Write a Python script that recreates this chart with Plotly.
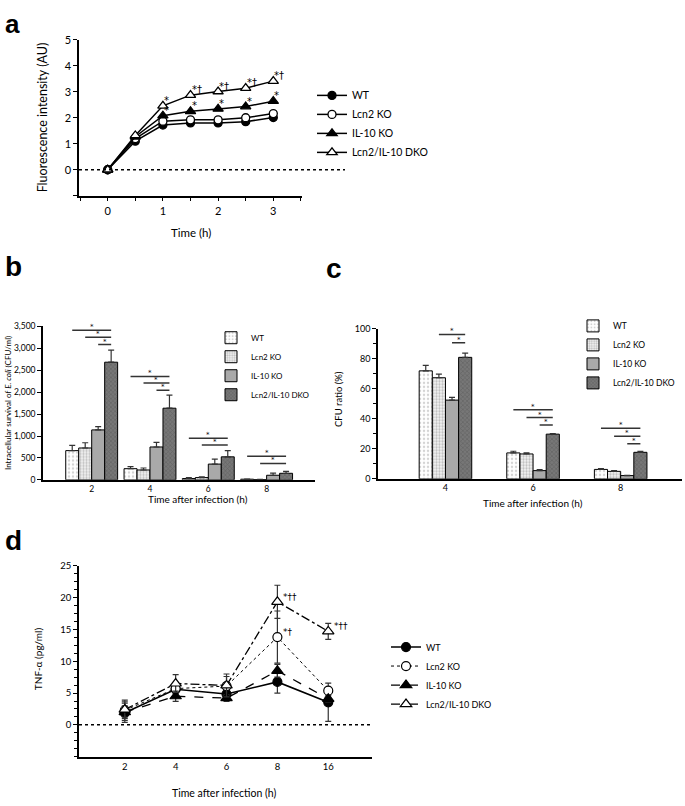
import plotly.graph_objects as go

W, H = 685, 806
FONT = "Lato"
SYMFONT = "DejaVu Sans"

groups = ["WT", "Lcn2 KO", "IL-10 KO", "Lcn2/IL-10 DKO"]

# ---------------- panel a ----------------
time_a = [0, 0.5, 1, 1.5, 2, 2.5, 3]
a_wt = [0, 1.10, 1.72, 1.80, 1.80, 1.85, 2.01]
a_lcn2 = [0, 1.20, 1.87, 1.92, 1.92, 2.00, 2.16]
a_il10 = [0, 1.27, 2.08, 2.25, 2.34, 2.43, 2.64]
a_dko = [0, 1.32, 2.46, 2.87, 3.01, 3.14, 3.41]
a_sig_il10 = ["", "", "*", "*", "*", "*", "*"]
a_sig_dko = ["", "", "*", "*†", "*†", "*†", "*†"]
a_ticks = [0, 1, 2, 3]

# ---------------- panel b ----------------
time_b = ["2", "4", "6", "8"]
b_wt = [667, 255, 30, 15]
b_wt_err = [120, 45, 20, 5]
b_lcn2 = [727, 225, 52, 8]
b_lcn2_err = [120, 45, 15, 5]
b_il10 = [1140, 750, 360, 105]
b_il10_err = [75, 105, 113, 50]
b_dko = [2685, 1635, 525, 150]
b_dko_err = [277, 300, 140, 45]
# significance brackets: (group index, from bar index, to bar index, level)
b_sig = [(0, 0, 3, 3411), (0, 1, 3, 3253), (0, 2, 3, 3088),
         (1, 0, 3, 2361), (1, 1, 3, 2211), (1, 2, 3, 2047),
         (2, 0, 3, 952), (2, 1, 3, 795),
         (3, 0, 3, 540), (3, 1, 3, 375)]

# ---------------- panel c ----------------
time_c = ["4", "6", "8"]
c_wt = [72.0, 17.3, 6.3]
c_wt_err = [3.6, 1.1, 0.5]
c_lcn2 = [67.4, 16.6, 5.0]
c_lcn2_err = [2.4, 0.7, 0.5]
c_il10 = [52.5, 5.5, 2.2]
c_il10_err = [1.8, 0.6, 0.2]
c_dko = [81.0, 29.8, 17.7]
c_dko_err = [2.8, 0.4, 0.6]
c_sig = [(0, 1, 3, 96.3), (0, 2, 3, 90.8),
         (1, 0, 3, 46.0), (1, 1, 3, 40.9), (1, 2, 3, 35.9),
         (2, 0, 3, 33.7), (2, 1, 3, 28.4), (2, 2, 3, 23.4)]

# ---------------- panel d ----------------
time_d = ["2", "4", "6", "8", "16"]
d_wt = [1.9, 5.6, 4.85, 6.75, 3.55]
d_wt_err = [1.5, 0.6, 0.5, 1.75, 3.0]
d_lcn2 = [2.3, 5.7, 6.1, 13.8, 5.37]
d_lcn2_err = [1.6, 0.8, 1.5, 4.1, 0.5]
d_il10 = [2.0, 4.5, 4.2, 8.5, 4.1]
d_il10_err = [1.0, 0.8, 0.5, 1.0, 0.5]
d_dko = [2.4, 6.5, 6.2, 19.35, 14.7]
d_dko_err = [1.2, 1.4, 1.8, 2.6, 1.25]
d_sig_lcn2 = ["", "", "", "*†", ""]
d_sig_dko = ["", "", "", "*††", "*††"]


def xd(p0, p1):
    return [p0 / W, p1 / W]


def yd(top, bottom):
    return [1 - bottom / H, 1 - top / H]


def px(p):
    return p / W


def py(p):
    return 1 - p / H


fig = go.Figure()

# ---- panel a traces ----
a_series = [a_wt, a_lcn2, a_il10, a_dko]
a_sym = ["circle", "circle-open", "triangle-up", "triangle-up-open"]
for name, ys, sym in zip(groups, a_series, a_sym):
    filled = "open" not in sym
    fig.add_trace(go.Scatter(
        x=time_a, y=ys, mode="lines+markers", name=name,
        xaxis="x", yaxis="y", legend="legend",
        line=dict(color="black", width=1.5),
        marker=dict(symbol=sym.replace("-open", ""), size=9 if "triangle" in sym else 8,
                    color="black" if filled else "white",
                    line=dict(color="black", width=1.3)),
    ))

# ---- panel b / c bars ----
bar_styles = [
    dict(color="white", pattern=dict(shape=".", fgcolor="#a8a8a8", bgcolor="white", size=4, solidity=0.3)),
    dict(color="#eeeeee", pattern=dict(shape=".", fgcolor="#8a8a8a", bgcolor="#f4f4f4", size=3, solidity=0.45)),
    dict(color="#a9a9a9"),
    dict(color="#6a6a6a", pattern=dict(shape="x", fgcolor="#4c4c4c", bgcolor="#777777", size=3, solidity=0.35)),
]

B_GAP, C_GAP = 0.11, 0.40

b_vals = [b_wt, b_lcn2, b_il10, b_dko]
b_errs = [b_wt_err, b_lcn2_err, b_il10_err, b_dko_err]
for k, (name, v, e, st) in enumerate(zip(groups, b_vals, b_errs, bar_styles)):
    w = (1 - B_GAP) / 4
    fig.add_trace(go.Bar(
        x=list(range(len(time_b))), y=v, name=name, xaxis="x2", yaxis="y2", legend="legend2",
        width=w, offset=-(1 - B_GAP) / 2 + k * w,
        marker=dict(line=dict(color="black", width=1), **st),
        error_y=dict(type="data", array=e, arrayminus=[0] * len(e), symmetric=False,
                     color="#333333", thickness=1.2, width=3),
    ))

c_vals = [c_wt, c_lcn2, c_il10, c_dko]
c_errs = [c_wt_err, c_lcn2_err, c_il10_err, c_dko_err]
for k, (name, v, e, st) in enumerate(zip(groups, c_vals, c_errs, bar_styles)):
    w = (1 - C_GAP) / 4
    fig.add_trace(go.Bar(
        x=list(range(len(time_c))), y=v, name=name, xaxis="x3", yaxis="y3", legend="legend3",
        width=w, offset=-(1 - C_GAP) / 2 + k * w,
        marker=dict(line=dict(color="black", width=1), **st),
        error_y=dict(type="data", array=e, arrayminus=[0] * len(e), symmetric=False,
                     color="#333333", thickness=1.2, width=3),
    ))

# ---- panel d ----
d_series = [d_wt, d_lcn2, d_il10, d_dko]
d_errs = [d_wt_err, d_lcn2_err, d_il10_err, d_dko_err]
d_dash = ["solid", "dot", "dash", "dashdot"]
d_width = [1.6, 1.0, 1.3, 1.3]
for name, ys, e, sym, dash, lw in zip(groups, d_series, d_errs, a_sym, d_dash, d_width):
    filled = "open" not in sym
    fig.add_trace(go.Scatter(
        x=list(range(len(time_d))), y=ys, mode="lines+markers", name=name,
        xaxis="x4", yaxis="y4", legend="legend4",
        line=dict(color="black", width=lw, dash=dash),
        marker=dict(symbol=sym.replace("-open", ""), size=10 if "triangle" in sym else 9,
                    color="black" if filled else "white",
                    line=dict(color="black", width=1.2)),
        error_y=dict(type="data", array=e, color="#333333", thickness=1.2, width=3),
    ))

annotations = []
shapes = []

# panel a significance marks
for xs, ys, marks in [(time_a, a_il10, a_sig_il10), (time_a, a_dko, a_sig_dko)]:
    for x, y, m in zip(xs, ys, marks):
        if m:
            annotations.append(dict(x=x, y=y, xref="x", yref="y", text=m, showarrow=False,
                                    xanchor="left", yanchor="bottom", xshift=-1, yshift=-2,
                                    font=dict(family=SYMFONT, size=10, color="black")))

# panel d significance marks
for ys, marks in [(d_lcn2, d_sig_lcn2), (d_dko, d_sig_dko)]:
    for i, (y, m) in enumerate(zip(ys, marks)):
        if m:
            annotations.append(dict(x=i, y=y, xref="x4", yref="y4", text=m, showarrow=False,
                                    xanchor="left", yanchor="bottom", xshift=4, yshift=-2,
                                    font=dict(family=SYMFONT, size=9, color="black")))


def bar_center(g, i, gap, n=4):
    w = (1 - gap) / n
    return g - (1 - gap) / 2 + (i + 0.5) * w


for (g, i0, i1, lev) in b_sig:
    x0, x1 = bar_center(g, i0, B_GAP), bar_center(g, i1, B_GAP)
    shapes.append(dict(type="line", xref="x2", yref="y2", x0=x0, x1=x1, y0=lev, y1=lev,
                       line=dict(color="#333333", width=1.5)))
    annotations.append(dict(x=(x0 + x1) / 2, y=lev, xref="x2", yref="y2", text="*", showarrow=False,
                            yanchor="bottom", yshift=-3, font=dict(family=SYMFONT, size=7, color="black")))
for (g, i0, i1, lev) in c_sig:
    x0, x1 = bar_center(g, i0, C_GAP), bar_center(g, i1, C_GAP)
    shapes.append(dict(type="line", xref="x3", yref="y3", x0=x0, x1=x1, y0=lev, y1=lev,
                       line=dict(color="#333333", width=1.5)))
    annotations.append(dict(x=(x0 + x1) / 2, y=lev, xref="x3", yref="y3", text="*", showarrow=False,
                            yanchor="bottom", yshift=-3, font=dict(family=SYMFONT, size=7, color="black")))

# dotted zero lines
shapes.append(dict(type="line", xref="paper", yref="y", x0=px(79), x1=px(345), y0=0, y1=0,
                   line=dict(color="black", width=1.5, dash="dot")))
shapes.append(dict(type="line", xref="paper", yref="y4", x0=px(79), x1=px(372), y0=0, y1=0,
                   line=dict(color="black", width=1.5, dash="dot")))

# panel letters
annotations.append(dict(x=px(3), y=1, xref="paper", yref="paper", text="a",
                        showarrow=False, xanchor="left", yanchor="top",
                        font=dict(family="Liberation Sans", size=26, color="black", weight="bold")))
for letter, x, y in [("b", 3, 263), ("c", 324, 265), ("d", 3, 542)]:
    annotations.append(dict(x=px(x), y=py(y), xref="paper", yref="paper", text=letter,
                            showarrow=False, xanchor="left", yanchor="middle",
                            font=dict(family="Liberation Sans", size=28, color="black", weight="bold")))

# axis titles
titles = [
    ("Fluorescence intensity (AU)", 42, 112, -90, 12.5),
    ("Time (h)", 191, 229, 0, 11.5),
    ("Intracellular survival of <i>E. coli</i> (CFU/ml)", 8, 402, -90, 8),
    ("Time after infection (h)", 198, 499, 0, 10),
    ("CFU ratio (%)", 338, 398, -90, 9.5),
    ("Time after infection (h)", 533, 503, 0, 10),
    ("TNF-α (pg/ml)", 38, 662, -90, 10),
    ("Time after infection (h)", 224, 798, 0, 10.5),
]
for t, x, y, ang, sz in titles:
    annotations.append(dict(x=px(x), y=py(y), xref="paper", yref="paper", text=t, showarrow=False,
                            textangle=ang, xanchor="center", yanchor="middle",
                            font=dict(family=FONT, size=sz, color="#000000")))

axis_common = dict(showline=True, linecolor="black", linewidth=1.5, showgrid=False, zeroline=False,
                   ticks="outside", tickcolor="black", ticklen=4, tickwidth=1.2)

fig.update_layout(
    width=W, height=H, margin=dict(l=0, r=0, t=0, b=0),
    paper_bgcolor="white", plot_bgcolor="white",
    font=dict(family=FONT, color="#000000"),
    barmode="overlay",
    xaxis=dict(domain=xd(79, 302), range=[-0.52, 3.52], anchor="y", tickvals=a_ticks,
               tickfont=dict(size=11), minor=dict(dtick=0.5, tick0=0, ticks="outside", ticklen=4, tickcolor="black"),
               **axis_common),
    yaxis=dict(domain=yd(33.3, 191.6), range=[-1, 5], anchor="x", tickvals=[0, 1, 2, 3, 4, 5],
               tickfont=dict(size=11), minor=dict(dtick=1, tick0=0, ticks="outside", ticklen=4, tickcolor="black"),
               **axis_common),
    xaxis2=dict(domain=xd(43, 315), range=[-0.835, 3.83], anchor="y2",
                tickvals=list(range(len(time_b))), ticktext=time_b, tickfont=dict(size=8.5),
                **{**axis_common, "ticks": ""}),
    yaxis2=dict(domain=yd(324.3, 480), range=[0, 3500], anchor="x2", dtick=500, tickformat=",d",
                tickfont=dict(size=8.5), **axis_common),
    xaxis3=dict(domain=xd(378, 682), range=[-0.77, 2.70], anchor="y3",
                tickvals=list(range(len(time_c))), ticktext=time_c, tickfont=dict(size=9),
                **{**axis_common, "ticks": ""}),
    yaxis3=dict(domain=yd(326.7, 479), range=[0, 100], anchor="x3", dtick=20, tickfont=dict(size=9),
                minor=dict(dtick=10, ticks="outside", ticklen=3, tickcolor="black"), **axis_common),
    xaxis4=dict(domain=xd(79, 372), range=[-0.9, 4.86], anchor="y4",
                tickvals=list(range(len(time_d))), ticktext=time_d, tickfont=dict(size=9.5),
                **{**axis_common, "ticks": ""}),
    yaxis4=dict(domain=yd(567.3, 761), range=[-5, 25], anchor="x4", tickvals=[0, 5, 10, 15, 20, 25],
                tickfont=dict(size=9.5), minor=dict(dtick=1.25, tick0=0, ticks="outside", ticklen=3, tickcolor="black"),
                **axis_common),
    legend=dict(x=px(312), y=py(75), xanchor="left", yanchor="top", font=dict(size=10.5, family=FONT),
                bgcolor="rgba(0,0,0,0)", itemwidth=30, tracegroupgap=0),
    legend2=dict(x=px(211), y=py(321), xanchor="left", yanchor="top", font=dict(size=8, family=FONT),
                 bgcolor="rgba(0,0,0,0)", itemwidth=30),
    legend3=dict(x=px(573), y=py(309), xanchor="left", yanchor="top", font=dict(size=8.5, family=FONT),
                 bgcolor="rgba(0,0,0,0)", itemwidth=30),
    legend4=dict(x=px(386), y=py(635), xanchor="left", yanchor="top", font=dict(size=9, family=FONT),
                 bgcolor="rgba(0,0,0,0)", itemwidth=30),
    annotations=annotations, shapes=shapes,
)

fig.write_html("out.html", config={"displayModeBar": False},
               post_script="document.body.style.margin='0px';document.body.style.overflow='hidden';")
